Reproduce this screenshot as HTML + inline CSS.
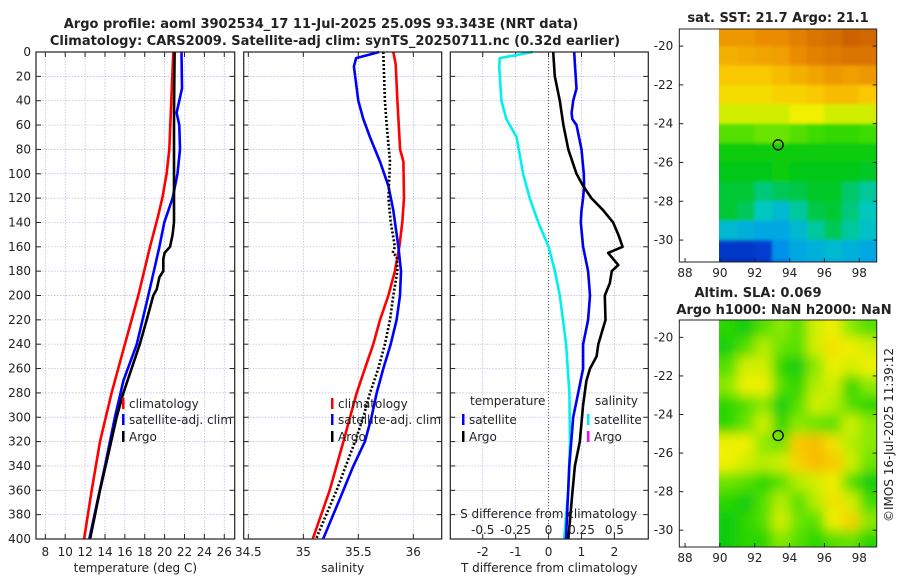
<!DOCTYPE html>
<html><head><meta charset="utf-8"><style>
body{margin:0;background:#fff;}
svg text{font-family:"DejaVu Sans","Liberation Sans",sans-serif;font-size:12px;fill:#222;}
</style></head><body>
<svg id="chart" width="900" height="580" viewBox="0 0 900 580" xmlns="http://www.w3.org/2000/svg">
<defs>
<filter id="blurS" x="-10%" y="-10%" width="120%" height="120%"><feGaussianBlur stdDeviation="1.5"/></filter>
<filter id="blurL" x="-10%" y="-10%" width="120%" height="120%"><feGaussianBlur stdDeviation="6"/></filter>
<clipPath id="clipSst"><rect x="719" y="29" width="157.7" height="233"/></clipPath>
<clipPath id="clipSla"><rect x="719" y="320" width="157.7" height="227"/></clipPath>
</defs>
<text x="321" y="28" text-anchor="middle" style="font-weight:bold;font-size:13px">Argo profile: aoml 3902534_17 11-Jul-2025 25.09S 93.343E (NRT data)</text>
<text x="335" y="45" text-anchor="middle" style="font-weight:bold;font-size:13px">Climatology: CARS2009. Satellite-adj clim: synTS_20250711.nc (0.32d earlier)</text>
<text x="778" y="22" text-anchor="middle" style="font-weight:bold;font-size:13px">sat. SST: 21.7 Argo: 21.1</text>
<text x="758" y="297" text-anchor="middle" style="font-weight:bold;font-size:13px">Altim. SLA: 0.069</text>
<text x="784" y="314" text-anchor="middle" style="font-weight:bold;font-size:13px">Argo h1000: NaN h2000: NaN</text>
<text transform="translate(893,435) rotate(-90)" text-anchor="middle">©IMOS 16-Jul-2025 11:39:12</text>
</svg>
<script>
// ---- profile data ----
const depthTicks=[0,20,40,60,80,100,120,140,160,180,200,220,240,260,280,300,320,340,360,380,400];
const tempTicks=[8,10,12,14,16,18,20,22,24,26];
const salTicks=[34.5,35,35.5,36];
const salTickLabels=["34.5","35","35.5","36"];
const dTTicks=[-2,-1,0,1,2];
const dSTicks=[-0.5,-0.25,0,0.25,0.5];
const dSTickLabels=["-0.5","-0.25","0","0.25","0.5"];

const climTDepth=[0,80,100,120,135,160,200,240,280,320,360,400];
const climTVal=[20.87,20.47,20.2,19.77,19.33,18.53,17.35,16.0,14.67,13.5,12.66,11.9];
const satTDepth=[0,30,40,50,60,80,100,120,140,160,200,240,270,300,340,400];
const satTVal=[21.7,21.75,21.48,21.2,21.48,21.55,21.3,20.8,19.97,19.47,18.36,17.2,15.85,15.0,14.0,12.42];
const argoTDepth=[0,50,100,140,150,160,165,170,180,185,195,200,220,240,260,280,300,330,360,400];
const argoTVal=[21.0,20.94,20.94,20.94,20.8,20.54,20.0,19.87,19.87,19.47,19.2,18.86,18.2,17.5,16.68,15.85,15.17,14.34,13.5,12.5];

const climSDepth=[0,10,40,80,90,120,140,160,180,200,220,240,260,280,320,360,400];
const climSVal=[35.818,35.84,35.855,35.88,35.91,35.915,35.90,35.873,35.833,35.773,35.697,35.636,35.56,35.485,35.364,35.24,35.085];
const satSDepth=[0,5,12,40,55,70,90,110,130,160,180,200,220,240,260,280,300,320,340,360,400];
const satSVal=[35.69,35.48,35.46,35.5,35.545,35.606,35.697,35.773,35.818,35.864,35.888,35.879,35.848,35.794,35.727,35.667,35.62,35.56,35.455,35.364,35.18];
const argoSDepth=[0,40,60,90,120,140,160,165,168,180,200,220,240,260,280,300,320,360,400];
const argoSVal=[35.727,35.742,35.758,35.788,35.773,35.794,35.833,35.812,35.85,35.855,35.818,35.788,35.742,35.682,35.606,35.545,35.47,35.303,35.115];

const satDTDepth=[0,10,30,40,50,55,60,80,100,110,120,130,140,160,180,200,220,240,260,280,300,340,400];
const satDTVal=[0.78,0.8,0.85,0.75,0.70,0.72,0.85,1.0,1.07,1.08,1.05,1.0,0.98,1.05,1.2,1.26,1.2,1.05,1.05,0.9,0.75,0.63,0.53];
const argoDTDepth=[0,20,40,60,80,100,110,120,130,140,150,160,165,175,180,190,200,220,240,250,260,270,290,320,340,360,400];
const argoDTVal=[0.14,0.19,0.34,0.45,0.6,0.85,1.05,1.3,1.66,1.96,2.12,2.25,1.81,2.12,1.92,1.86,1.71,1.73,1.51,1.46,1.26,1.15,1.05,0.95,0.8,0.73,0.6];
const satDSDepth=[0,5,12,40,55,70,100,120,140,160,180,200,240,280,320,360,400];
const satDSVal=[-0.118,-0.37,-0.375,-0.358,-0.32,-0.243,-0.193,-0.143,-0.078,0,0.048,0.085,0.133,0.158,0.163,0.15,0.118];

// ---- map data (1-degree cells, lon 90..99, lat -19..-31.2), normalized colour index ----
const mapLons=[90,91,92,93,94,95,96,97,98];
const mapLats=[-19,-20,-21,-22,-23,-24,-25,-26,-27,-28,-29,-30,-31];
const sstGrid=[
[0.88,0.88,0.9,0.9,0.92,0.94,0.95,0.97,0.96],
[0.84,0.85,0.86,0.87,0.9,0.92,0.93,0.94,0.94],
[0.8,0.8,0.8,0.82,0.84,0.86,0.88,0.87,0.88],
[0.76,0.76,0.76,0.78,0.78,0.8,0.82,0.82,0.8],
[0.7,0.7,0.7,0.7,0.72,0.72,0.7,0.7,0.7],
[0.6,0.6,0.62,0.62,0.6,0.58,0.56,0.56,0.58],
[0.5,0.5,0.5,0.5,0.5,0.5,0.5,0.5,0.5],
[0.48,0.48,0.48,0.5,0.48,0.48,0.48,0.48,0.47],
[0.46,0.46,0.42,0.44,0.45,0.47,0.47,0.43,0.4],
[0.46,0.44,0.38,0.34,0.4,0.45,0.46,0.42,0.38],
[0.34,0.32,0.3,0.3,0.34,0.4,0.44,0.4,0.36],
[0.1,0.1,0.12,0.26,0.3,0.32,0.34,0.32,0.3],
[0.06,0.06,0.08,0.22,0.28,0.3,0.3,0.3,0.28]];
const slaGrid=[
[0.55,0.5,0.6,0.65,0.6,0.7,0.72,0.65,0.6],
[0.52,0.6,0.68,0.62,0.6,0.7,0.75,0.72,0.7],
[0.6,0.7,0.7,0.55,0.5,0.65,0.72,0.7,0.72],
[0.65,0.72,0.72,0.6,0.55,0.68,0.7,0.55,0.65],
[0.55,0.6,0.65,0.5,0.6,0.7,0.68,0.6,0.55],
[0.55,0.62,0.7,0.55,0.65,0.62,0.6,0.7,0.65],
[0.72,0.72,0.65,0.62,0.8,0.82,0.75,0.68,0.65],
[0.72,0.7,0.68,0.7,0.78,0.82,0.8,0.7,0.62],
[0.62,0.6,0.55,0.6,0.68,0.7,0.72,0.6,0.5],
[0.55,0.5,0.6,0.68,0.6,0.68,0.75,0.7,0.58],
[0.5,0.55,0.6,0.7,0.62,0.6,0.72,0.78,0.65],
[0.5,0.55,0.55,0.65,0.6,0.55,0.6,0.62,0.55],
[0.5,0.52,0.55,0.6,0.58,0.55,0.58,0.6,0.5]];
const mapLonTicks=[88,90,92,94,96,98];
const mapLatTicks=[-20,-22,-24,-26,-28,-30];
const floatLon=93.343, floatLat=-25.09;

const svg=document.getElementById('chart');
const NS='http://www.w3.org/2000/svg';
function mk(tag,attrs,parent){const e=document.createElementNS(NS,tag);for(const k in attrs)e.setAttribute(k,attrs[k]);(parent||svg).appendChild(e);return e;}

const TOP=52,BOT=539;
const yD=d=>TOP+d/400*(BOT-TOP);
const panels=[
 {name:'temperature',x0:36,x1:234.7,dmin:7.06,dmax:27.05},
 {name:'salinity',x0:243.7,x1:441.7,dmin:34.458,dmax:36.258},
 {name:'difference',x0:450.3,x1:648.3,dmin:-2.985,dmax:3.03}];
panels.forEach(p=>{p.sx=v=>p.x0+(v-p.dmin)/(p.dmax-p.dmin)*(p.x1-p.x0);});
const [P1,P2,P3]=panels;

function grid(p,xs){
 const g=mk('g',{});
 
 
 depthTicks.forEach(d=>{mk('line',{x1:p.x0,x2:p.x1,y1:yD(d),y2:yD(d),stroke:'#b0b8e0','stroke-width':0.7,'stroke-dasharray':'1.5,1.5'},g);
  mk('line',{x1:p.x0,x2:p.x0+5,y1:yD(d),y2:yD(d),stroke:'#222','stroke-width':1},g);
  mk('line',{x1:p.x1-5,x2:p.x1,y1:yD(d),y2:yD(d),stroke:'#222','stroke-width':1},g);});
 xs.forEach(v=>{const x=p.sx(v);mk('line',{x1:x,x2:x,y1:TOP,y2:BOT,stroke:'#b0b8e0','stroke-width':0.7,'stroke-dasharray':'1.5,1.5'},g);
  mk('line',{x1:x,x2:x,y1:TOP,y2:TOP+5,stroke:'#222'},g);mk('line',{x1:x,x2:x,y1:BOT-5,y2:BOT,stroke:'#222'},g);});
}
function frame(p){const r=mk('rect',{x:p.x0,y:TOP,width:p.x1-p.x0,height:BOT-TOP,fill:'none',stroke:'#222','stroke-width':1.2});
 
 }
function line(p,dep,val,color,name,dash,scale){
 const pts=dep.map((d,i)=>p.sx(val[i]*(scale||1)).toFixed(1)+','+yD(d).toFixed(1)).join(' ');
 const e=mk('polyline',{points:pts,fill:'none',stroke:color,'stroke-width':2.6,'stroke-linejoin':'round'});
 if(dash)e.setAttribute('stroke-dasharray',dash);
 
 }
function txt(x,y,s,anchor,name,extra){const t=mk('text',Object.assign({x:x,y:y,'text-anchor':anchor||'start'},extra||{}));t.textContent=s;
 
 return t;}

grid(P1,tempTicks);grid(P2,salTicks);grid(P3,dTTicks);
const zl=mk('line',{x1:P3.sx(0),x2:P3.sx(0),y1:TOP,y2:BOT,stroke:'#555','stroke-width':1,'stroke-dasharray':'1,2'});



line(P1,climTDepth,climTVal,'#f00','temp-climatology-line');
line(P1,satTDepth,satTVal,'#0000ff','temp-satellite-line');
line(P1,argoTDepth,argoTVal,'#000','temp-argo-line');
line(P2,climSDepth,climSVal,'#f00','sal-climatology-line');
line(P2,satSDepth,satSVal,'#0000ff','sal-satellite-line');
line(P2,argoSDepth,argoSVal,'#000','sal-argo-line','2,2');
line(P3,satDSDepth,satDSVal,'#00f0f0','sal-diff-satellite-line',null,4);
line(P3,satDTDepth,satDTVal,'#0000ee','temp-diff-satellite-line');
line(P3,argoDTDepth,argoDTVal,'#000','temp-diff-argo-line');
panels.forEach(frame);

depthTicks.forEach(d=>txt(31,yD(d)+4,String(d),'end','depth-tick-label'));
tempTicks.forEach(v=>txt(P1.sx(v),556,String(v),'middle','temp-tick-label'));
salTicks.forEach((v,i)=>txt(P2.sx(v),556,salTickLabels[i],'middle','sal-tick-label'));
dTTicks.forEach(v=>txt(P3.sx(v),556,String(v),'middle','tdiff-tick-label'));
dSTicks.forEach((v,i)=>txt(P3.sx(v*4),534,dSTickLabels[i],'middle','sdiff-tick-label'));
txt(P3.sx(0),518,'S difference from climatology','middle','sdiff-axis-title');
txt((P1.x0+P1.x1)/2,572,'temperature (deg C)','middle','temp-axis-title');
txt((P2.x0+P2.x1)/2,572,'salinity','middle','sal-axis-title');
txt((P3.x0+P3.x1)/2,572,'T difference from climatology','middle','tdiff-axis-title');

function legend(x,y,color,label,name){const r=mk('rect',{x:x,y:y-6,width:2.5,height:11,fill:color});
 
 
 txt(x+7,y+4,label,'start',name+'-label');}
legend(122,404,'#f00','climatology','legend-climatology');
legend(122,420,'#00f','satellite-adj. clim','legend-satellite-adj');
legend(122,437,'#000','Argo','legend-argo');
legend(331,404,'#f00','climatology','legend2-climatology');
legend(331,420,'#00f','satellite-adj. clim','legend2-satellite-adj');
legend(331,437,'#000','Argo','legend2-argo');
txt(470,405,'temperature','start','legend3-temperature-heading');
legend(462,420,'#00f','satellite','legend3-temp-satellite');
legend(462,437,'#000','Argo','legend3-temp-argo');
txt(595,405,'salinity','start','legend3-salinity-heading');
legend(587,420,'#0ee','satellite','legend3-sal-satellite');
legend(587,437,'#f0f','Argo','legend3-sal-argo');

// ---- maps ----
const cstops=[[0,[0,30,160]],[0.15,[0,70,220]],[0.28,[0,160,235]],[0.38,[0,200,190]],[0.48,[0,200,20]],[0.58,[60,220,0]],[0.66,[150,235,0]],[0.72,[240,240,0]],[0.8,[250,200,0]],[0.9,[235,140,0]],[1,[190,80,0]]];
function cmap(v){for(let i=1;i<cstops.length;i++){if(v<=cstops[i][0]){const a=cstops[i-1],b=cstops[i],t=(v-a[0])/(b[0]-a[0]);return 'rgb('+a[1].map((c,j)=>Math.round(c+(b[1][j]-c)*t)).join(',')+')';}}return 'rgb(190,80,0)';}
function drawMap(m,gridData,name,clip,filt){
 const sx=lon=>m.x0+(lon-m.lon0)/(m.lon1-m.lon0)*(m.x1-m.x0);
 const sy=lat=>m.y0+(m.lat0-lat)/(m.lat0-m.lat1)*(m.y1-m.y0);
 const outer=mk('g',{'clip-path':'url(#'+clip+')'});
 const g=mk('g',{filter:'url(#'+filt+')'},outer);
 
 
 gridData.forEach((row,i)=>row.forEach((v,j)=>{
  const lat=mapLats[i],lon=mapLons[j];
  const x=sx(lon)-(j===0?12:0),xa=sx(lon+1)+(j===row.length-1?12:0),y=sy(lat)-(i===0?12:0),yb=sy(lat-1)+(i===gridData.length-1?12:0);
  mk('rect',{x:x,y:y,width:xa-x+0.5,height:yb-y+0.5,fill:cmap(v)},g);}));
 const fr=mk('rect',{x:m.x0,y:m.y0,width:m.x1-m.x0,height:m.y1-m.y0,fill:'none',stroke:'#222','stroke-width':1});
 
 
 mapLonTicks.forEach(l=>{const x=sx(l);mk('line',{x1:x,x2:x,y1:m.y1-4,y2:m.y1,stroke:'#222'});txt(x,m.y1+15,String(l),'middle',name+'-lon-tick');});
 mapLatTicks.forEach(l=>{const y=sy(l);mk('line',{x1:m.x0,x2:m.x0+4,y1:y,y2:y,stroke:'#222'});mk('line',{x1:m.x1-4,x2:m.x1,y1:y,y2:y,stroke:'#222'});txt(m.x0-6,y+4,String(l),'end',name+'-lat-tick');});
 const c=mk('circle',{cx:sx(floatLon),cy:sy(floatLat),r:5,fill:'none',stroke:'#000','stroke-width':1.3});
 
 
}
drawMap({x0:679.3,x1:876.7,y0:29,y1:262,lon0:87.67,lon1:99.0,lat0:-19.12,lat1:-31.13},sstGrid,'sst-map','clipSst','blurS');
drawMap({x0:679.3,x1:876.7,y0:320,y1:547,lon0:87.67,lon1:99.0,lat0:-19.1,lat1:-30.87},slaGrid,'sla-map','clipSla','blurL');
</script>
</body></html>
